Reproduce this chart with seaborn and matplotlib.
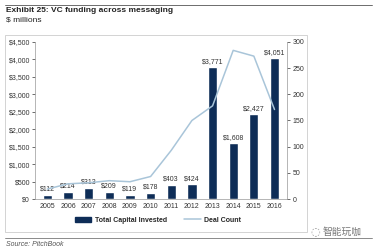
import numpy as np
import pandas as pd
import matplotlib
matplotlib.use("Agg")
import matplotlib.pyplot as plt
import seaborn as sns
from matplotlib.patches import Rectangle
from matplotlib.lines import Line2D

years = ["2005", "2006", "2007", "2008", "2009", "2010", "2011", "2012", "2013", "2014", "2015", "2016"]
capital = [112, 214, 313, 209, 119, 178, 403, 424, 3771, 1608, 2427, 4051]
deals = [19, 29, 31, 35, 33, 43, 93, 150, 178, 284, 273, 171]
left_ticks = [0, 500, 1000, 1500, 2000, 2500, 3000, 3500, 4000, 4500]
right_ticks = [0, 50, 100, 150, 200, 250, 300]

sns.set_theme(style="white")
plt.rcParams['font.family'] = ['Liberation Sans', 'DejaVu Sans', 'Noto Sans CJK SC']

bar_color = "#0e2d57"
line_color = "#a9c5d9"
txt = "#333333"
fs = 5.0

fig = plt.figure(figsize=(3.76, 2.5), dpi=100)
ax = fig.add_axes([0.093, 0.204, 0.67, 0.628])

df = pd.DataFrame({"year": years, "capital": capital, "deals": deals})
sns.barplot(data=df, x="year", y="capital", color=bar_color, width=0.45, ax=ax, saturation=1)
for i, v in enumerate(capital):
    ax.text(i, v + 60, f"${v:,}", ha="center", va="bottom", fontsize=fs, color=txt)

ax.set_ylim(0, 4500)
ax.set_yticks(left_ticks)
ax.set_yticklabels([f"${t:,}" for t in left_ticks], fontsize=fs, color=txt)
ax.set_xlim(-0.6, len(years) - 0.4)
ax.tick_params(axis="x", labelsize=fs, colors=txt, length=0, pad=3)
ax.tick_params(axis="y", length=2, width=0.5, pad=1.5, colors=txt)
ax.set_xlabel("")
ax.set_ylabel("")
for s in ["top", "right"]:
    ax.spines[s].set_visible(False)
for s in ["left", "bottom"]:
    ax.spines[s].set_color("#999999")
    ax.spines[s].set_linewidth(0.5)

ax2 = ax.twinx()
sns.lineplot(x=np.arange(len(years)), y=deals, color=line_color, linewidth=1.1, ax=ax2)
ax2.set_ylim(0, 300)
ax2.set_yticks(right_ticks)
ax2.set_yticklabels([str(t) for t in right_ticks], fontsize=fs, color=txt)
ax2.tick_params(axis="y", length=2, width=0.5, pad=2, colors=txt)
for s in ["top", "left", "bottom"]:
    ax2.spines[s].set_visible(False)
ax2.spines["right"].set_color("#999999")
ax2.spines["right"].set_linewidth(0.5)
ax2.set_xlim(-0.6, len(years) - 0.4)

handles = [Rectangle((0, 0), 1, 1, color=bar_color), Line2D([0], [0], color=line_color, lw=1.1)]
fig.legend(handles, ["Total Capital Invested", "Deal Count"], loc="center", bbox_to_anchor=(0.42, 0.12),
           ncol=2, frameon=False, handlelength=2.4, columnspacing=2.5, handletextpad=0.5,
           prop={"weight": "bold", "size": fs, "family": "Liberation Sans"})

# chart frame
fig.patches.append(Rectangle((5 / 376, 1 - 232 / 250), 302 / 376, 197 / 250, transform=fig.transFigure,
                             fill=False, edgecolor="#cccccc", linewidth=0.6))
# header and footer rules
fig.add_artist(Line2D([5 / 376, 372 / 376], [1 - 5 / 250, 1 - 5 / 250], transform=fig.transFigure,
                      color="#555555", linewidth=0.6))
fig.add_artist(Line2D([5 / 376, 372 / 376], [1 - 238 / 250, 1 - 238 / 250], transform=fig.transFigure,
                      color="#777777", linewidth=0.6))

fig.text(6 / 376, 1 - 11 / 250, "Exhibit 25: VC funding across messaging", fontsize=6.0, weight="bold",
         color="#222222", va="center", ha="left")
fig.text(6 / 376, 1 - 20 / 250, "$ millions", fontsize=6.0, color="#222222", va="center", ha="left")
fig.text(6 / 376, 1 - 244 / 250, "Source: PitchBook", fontsize=5, style="italic", color="#555555",
         va="center", ha="left")
fig.text(323 / 376, 1 - 232 / 250, "智能玩咖", fontsize=7, color="#777777", va="center", ha="left",
         family=["Noto Sans CJK SC", "DejaVu Sans"])
fig.text(310 / 376, 1 - 231 / 250, "◌", fontsize=8, color="#999999", va="center", ha="left",
         family=["DejaVu Sans"])

fig.savefig("out.png", dpi=100)
